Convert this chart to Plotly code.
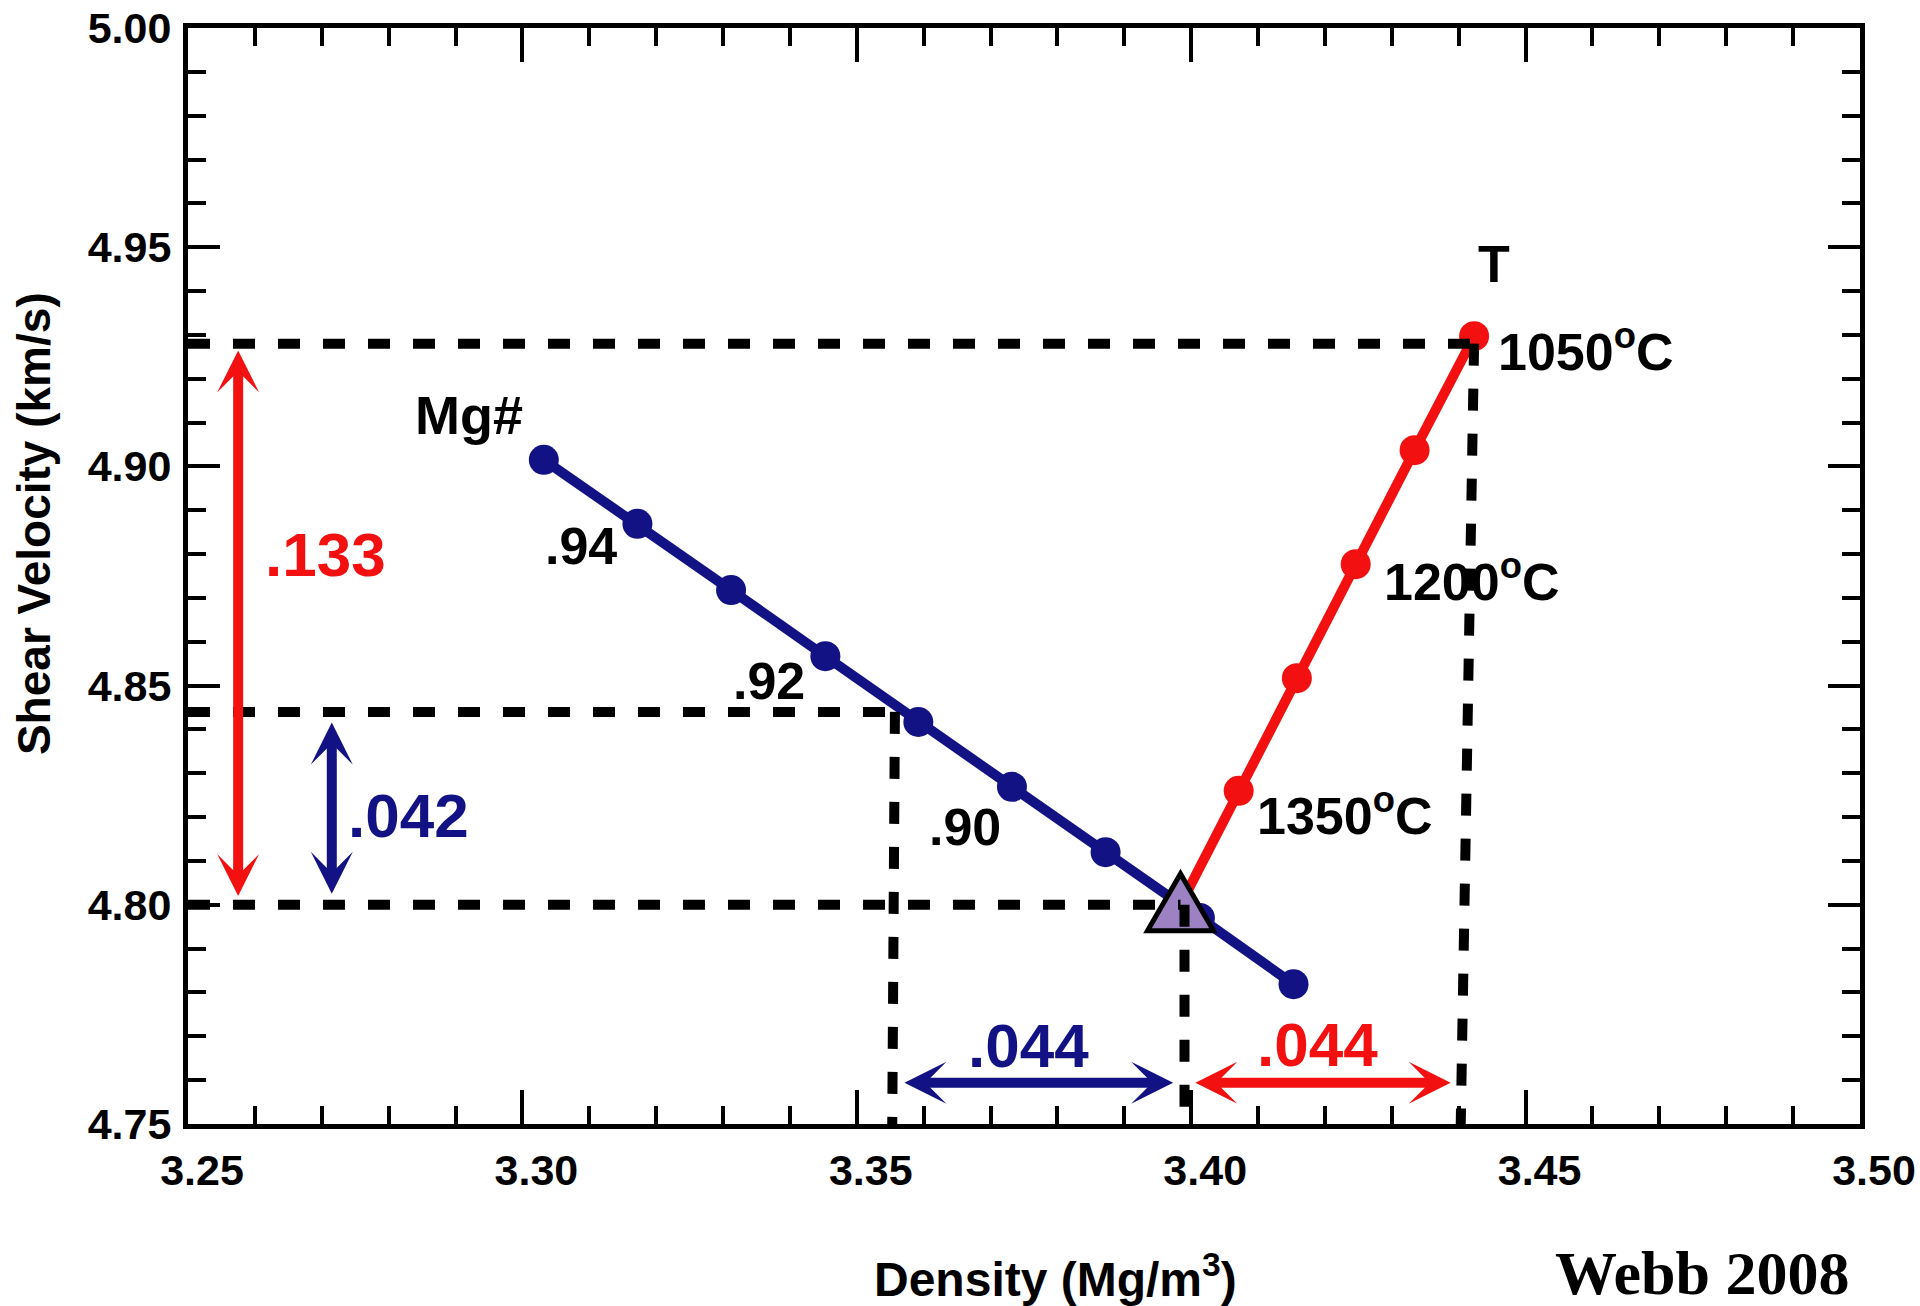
import plotly.graph_objects as go

# ---------------- data ----------------
# Mg# (composition) trend
mg_density = [3.3032, 3.3172, 3.3312, 3.3453, 3.3592, 3.3732, 3.3872, 3.4013, 3.4153]
mg_vs = [4.9015, 4.8869, 4.8718, 4.8567, 4.8417, 4.8269, 4.8120, 4.7970, 4.7819]

# Temperature trend
t_density = [3.3984, 3.4071, 3.4158, 3.4246, 3.4334, 3.4423]
t_vs = [4.8000, 4.8260, 4.8517, 4.8777, 4.9037, 4.9297]

# reference point (triangle)
ref_density = [3.3984]
ref_vs = [4.800]

# axis ticks
x_ticks = [3.25, 3.30, 3.35, 3.40, 3.45, 3.50]
x_tick_labels = ["3.25", "3.30", "3.35", "3.40", "3.45", "3.50"]
y_ticks = [4.75, 4.80, 4.85, 4.90, 4.95, 5.00]
y_tick_labels = ["4.75", "4.80", "4.85", "4.90", "4.95", "5.00"]

# dashed guide lines: horizontal (vs level, density end) and vertical (density top, density bottom, vs top)
h_guide_vs = [4.928, 4.844, 4.800]
h_guide_xend = [3.4423, 3.3557, 3.3984]
v_guide_xtop = [3.3557, 3.3990, 3.4423]
v_guide_xbot = [3.3553, 3.3990, 3.4403]
v_guide_ytop = [4.844, 4.800, 4.928]

# double arrows: (x_start, y_start, x_end, y_end, colour)
arrow_x0 = [3.2575, 3.2715, 3.3569, 3.4004]
arrow_y0 = [4.9268, 4.8419, 4.7594, 4.7594]
arrow_x1 = [3.2575, 3.2715, 3.3973, 3.4388]
arrow_y1 = [4.8020, 4.8025, 4.7594, 4.7594]
arrow_col = ["red", "blue", "blue", "red"]

# text labels
lab_text = [".133", ".042", ".044", ".044", "Mg#", ".94", ".92", ".90",
            "T", "1050<sup>o</sup>C", "1200<sup>o</sup>C", "1350<sup>o</sup>C"]
lab_x = [3.2705, 3.2829, 3.3756, 3.4189, 3.2920, 3.3087, 3.3369, 3.3662,
         3.4452, 3.4456, 3.4285, 3.4096]
lab_y = [4.8800, 4.8203, 4.7678, 4.7682, 4.9117, 4.8818, 4.8510, 4.8177,
         4.9462, 4.9270, 4.8745, 4.8212]
lab_col = ["red", "blue", "blue", "red", "black", "black", "black", "black",
           "black", "black", "black", "black"]
lab_size = [62, 62, 62, 62, 54, 52, 52, 52, 52, 52, 52, 52]
lab_anchor = ["center"] * 9 + ["left", "left", "left"]

# ---------------- style ----------------
FONT = "Liberation Sans, Arial, Helvetica, sans-serif"
RED = "#f21010"
BLUE = "#121284"
COL = {"red": RED, "blue": BLUE, "black": "black"}

fig = go.Figure()

fig.add_trace(go.Scatter(
    x=mg_density, y=mg_vs, mode="lines+markers",
    line=dict(color=BLUE, width=10),
    marker=dict(color=BLUE, size=30),
    hoverinfo="skip", cliponaxis=False))

fig.add_trace(go.Scatter(
    x=t_density, y=t_vs, mode="lines+markers",
    line=dict(color=RED, width=10),
    marker=dict(color=RED, size=30),
    hoverinfo="skip", cliponaxis=False))

shapes = []
# triangle reference marker (pixel-sized path anchored at the data point)
shapes.append(dict(
    type="path", xref="x", yref="y",
    xsizemode="pixel", ysizemode="pixel",
    xanchor=ref_density[0], yanchor=ref_vs[0],
    path="M -33 -26 L 33 -26 L 0 31 Z",
    fillcolor="#9c82c2", line=dict(color="black", width=5), layer="above"))

DASH = "22px,23px"
for yv, xe in zip(h_guide_vs, h_guide_xend):
    shapes.append(dict(type="line", xref="x", yref="y",
                       x0=x_ticks[0], x1=xe, y0=yv, y1=yv,
                       line=dict(color="black", width=10, dash=DASH), layer="above"))
for xt, xb, yt in zip(v_guide_xtop, v_guide_xbot, v_guide_ytop):
    shapes.append(dict(type="line", xref="x", yref="y",
                       x0=xt, x1=xb, y0=yt, y1=y_ticks[0],
                       line=dict(color="black", width=10, dash=DASH), layer="above"))

annotations = []
for x0, y0, x1, y1, c in zip(arrow_x0, arrow_y0, arrow_x1, arrow_y1, arrow_col):
    annotations.append(dict(
        x=x1, y=y1, ax=x0, ay=y0, xref="x", yref="y", axref="x", ayref="y",
        text="", showarrow=True, arrowhead=3, startarrowhead=3,
        arrowside="end+start", arrowsize=0.7, startarrowsize=0.7,
        arrowwidth=10, arrowcolor=COL[c], standoff=0, startstandoff=0))

for t, x, y, c, s, a in zip(lab_text, lab_x, lab_y, lab_col, lab_size, lab_anchor):
    annotations.append(dict(
        x=x, y=y, xref="x", yref="y", text="<b>" + t + "</b>", showarrow=False,
        xanchor=a, yanchor="middle",
        font=dict(family=FONT, size=s, color=COL[c])))

# axis titles
annotations.append(dict(
    x=0.519, y=-0.1387, xref="paper", yref="paper",
    text="<b>Density (Mg/m<sup>3</sup>)</b>", showarrow=False,
    xanchor="center", yanchor="middle",
    font=dict(family=FONT, size=48, color="black")))
annotations.append(dict(
    x=-0.0921, y=0.5474, xref="paper", yref="paper",
    text="<b>Shear Velocity (km/s)</b>", showarrow=False, textangle=-90,
    xanchor="center", yanchor="middle",
    font=dict(family=FONT, size=46, color="black")))
# credit
annotations.append(dict(
    x=0.9056, y=-0.136, xref="paper", yref="paper",
    text="<b>Webb 2008</b>", showarrow=False,
    xanchor="center", yanchor="middle",
    font=dict(family="Liberation Serif, Times New Roman, serif", size=62, color="black")))

axis_common = dict(
    ticks="inside", tickwidth=4, tickcolor="black",
    showline=True, linewidth=5, linecolor="black", mirror="ticks",
    showgrid=False, zeroline=False, automargin=False,
    ticklabeloverflow="allow",
    tickfont=dict(family=FONT, size=43, color="black", weight="bold"),
)

fig.update_layout(
    width=1920, height=1306,
    margin=dict(l=188, r=60, t=28, b=182, pad=0),
    paper_bgcolor="white", plot_bgcolor="white",
    showlegend=False,
    shapes=shapes, annotations=annotations,
    xaxis=dict(range=[x_ticks[0], x_ticks[-1]], tickmode="array",
               tickvals=x_ticks, ticktext=x_tick_labels, ticklen=34,
               ticklabelstandoff=4, ticklabelshift=14,
               minor=dict(tickmode="linear", tick0=x_ticks[0], dtick=0.01,
                          ticks="inside", ticklen=18, tickwidth=4,
                          tickcolor="black", showgrid=False),
               **axis_common),
    yaxis=dict(range=[y_ticks[0], y_ticks[-1]], tickmode="array",
               tickvals=y_ticks, ticktext=y_tick_labels, ticklen=32,
               ticklabelstandoff=3,
               minor=dict(tickmode="linear", tick0=y_ticks[0], dtick=0.01,
                          ticks="inside", ticklen=18, tickwidth=4,
                          tickcolor="black", showgrid=False),
               **axis_common),
)

fig.write_html("out.html",
               config={"displayModeBar": False},
               post_script="document.body.style.margin='0';document.body.style.overflow='hidden';")
